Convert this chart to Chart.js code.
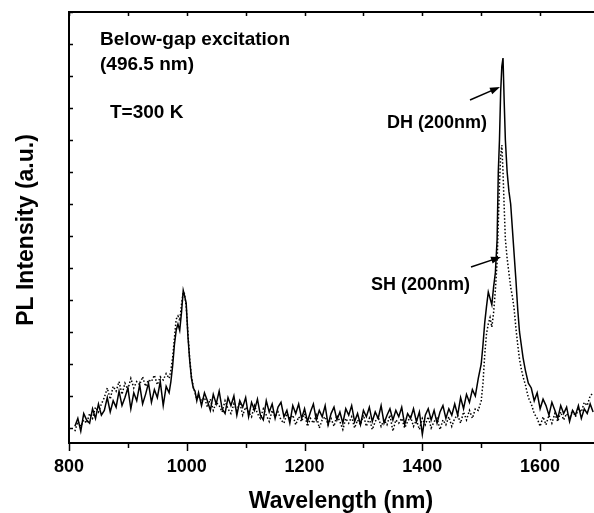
<!DOCTYPE html>
<html>
<head>
<meta charset="utf-8">
<title>PL spectra - below-gap excitation</title>
<script src="https://cdn.jsdelivr.net/npm/chart.js@4.4.1/dist/chart.umd.min.js"></script>
<style>
    html, body { margin: 0; padding: 0; background: #fff; overflow: hidden; }
    #wrap { width: 594px; height: 513px; overflow: hidden; }
</style>
</head>
<body>
<div id="wrap"><canvas id="plChart" width="600" height="513"></canvas></div>
<script>
// ========================================
// DATA
// ========================================
const wavelength = [
    810, 815, 820, 825, 830, 835, 840, 845, 850, 855, 860, 865, 870, 875, 880, 885, 890,
    895, 900, 905, 910, 915, 920, 925, 930, 935, 940, 945, 950, 955, 960, 965, 970,
    973, 976, 979, 982, 985, 988, 991, 994, 996, 999, 1002, 1005, 1008, 1011, 1014, 1017, 1020,
    1025, 1030, 1035, 1040, 1045, 1050, 1055, 1060, 1065, 1070, 1075, 1080, 1085, 1090, 1095,
    1100, 1105, 1110, 1115, 1120, 1125, 1130, 1135, 1140, 1145, 1150, 1155, 1160, 1165, 1170,
    1175, 1180, 1185, 1190, 1195, 1200, 1205, 1210, 1215, 1220, 1225, 1230, 1235, 1240, 1245,
    1250, 1255, 1260, 1265, 1270, 1275, 1280, 1285, 1290, 1295, 1300, 1305, 1310, 1315, 1320,
    1325, 1330, 1335, 1340, 1345, 1350, 1355, 1360, 1365, 1370, 1375, 1380, 1385, 1390, 1395,
    1400, 1405, 1410, 1415, 1420, 1425, 1430, 1435, 1440, 1445, 1450, 1455,
    1460, 1465, 1470, 1475, 1480, 1485, 1490, 1495, 1500, 1503, 1506, 1509, 1512, 1515, 1518,
    1521, 1524, 1527, 1529, 1531, 1533, 1535,
    1537, 1539, 1541, 1544, 1547, 1550, 1553, 1556, 1559, 1562, 1565, 1568, 1571, 1575, 1580,
    1585, 1590, 1595, 1600, 1605, 1610, 1615, 1620, 1625, 1630, 1635, 1640, 1645, 1650, 1655,
    1660, 1665, 1670, 1675, 1680, 1685, 1690
];

// DH (200nm) - solid line
const dhIntensity = [
    0.05, 0.30, -0.10, 0.45, 0.25, 0.15, 0.60, 0.30, 0.75, 0.40, 0.55, 0.95, 0.50, 0.85, 0.65, 1.15, 0.70,
    0.95, 1.25, 0.60, 1.10, 0.85, 1.35, 0.75, 1.05, 1.40, 0.80, 1.20, 0.95, 1.45, 0.70, 1.30, 1.10,
    1.45, 1.95, 2.60, 3.05, 3.25, 3.05, 3.60, 4.30, 4.15, 3.90, 2.85, 2.10, 1.55, 1.25, 1.15, 0.85, 1.10,
    0.70, 1.10, 0.85, 0.55, 1.05, 0.75, 1.15, 0.60, 0.45, 0.95, 0.70, 1.00, 0.40, 0.85, 0.65,
    0.95, 0.35, 0.80, 0.55, 0.90, 0.40, 0.25, 0.85, 0.50, 0.75, 0.30, 0.65, 0.80, 0.35, 0.55,
    0.15, 0.70, 0.45, 0.75, 0.30, 0.60, 0.20, 0.50, 0.75, 0.25, 0.55, 0.35, 0.70, 0.10, 0.45,
    0.65, 0.25, 0.50, 0.15, 0.60, 0.40, 0.70, 0.20, 0.45, 0.10, 0.55, 0.35, 0.65, 0.20, 0.50,
    0.30, 0.70, 0.15, 0.40, 0.60, 0.25, 0.55, 0.35, 0.65, 0.10, 0.45, 0.30, 0.60, 0.20, 0.50,
    -0.20, 0.40, 0.60, 0.25, 0.55, 0.15, 0.50, 0.70, 0.30, 0.60, 0.40, 0.75,
    0.40, 0.95, 0.60, 1.05, 0.80, 1.20, 1.00, 1.55, 2.00, 2.60, 3.30, 3.80, 4.25, 4.05, 3.85,
    4.40, 4.85, 5.90, 8.00, 9.00, 10.50, 11.30,
    11.56, 10.20, 9.00, 8.00, 7.40, 7.00, 6.20, 5.40, 4.60, 3.70, 3.00, 2.60, 2.20, 1.80, 1.40,
    1.25, 0.85, 1.10, 0.60, 0.90, 0.70, 0.40, 0.80, 0.55, 0.30, 0.70, 0.45, 0.65, 0.20, 0.55,
    0.40, 0.70, 0.30, 0.60, 0.45, 0.75, 0.50
];

// SH (200nm) - dotted line
const shIntensity = [
    -0.10, 0.20, 0.05, 0.25, 0.15, 0.45, 0.30, 0.65, 0.50, 0.75, 0.95, 1.25, 0.90, 1.30, 1.15, 1.45, 1.05,
    1.40, 1.20, 1.55, 1.25, 1.45, 1.35, 1.60, 1.30, 1.50, 1.45, 1.65, 1.35, 1.60, 1.50, 1.70, 1.55,
    1.80, 2.20, 2.80, 3.40, 3.50, 3.35, 3.85, 4.25, 4.20, 3.80, 2.95, 2.15, 1.60, 1.30, 1.10, 0.90, 1.00,
    0.85, 0.95, 0.65, 0.90, 0.55, 0.80, 0.70, 0.50, 0.85, 0.60, 0.45, 0.75, 0.55, 0.80, 0.40,
    0.65, 0.50, 0.35, 0.70, 0.45, 0.30, 0.60, 0.40, 0.20, 0.55, 0.35, 0.50, 0.25, 0.15, 0.45,
    0.30, 0.40, 0.10, 0.35, 0.20, 0.45, 0.05, 0.30, 0.15, 0.40, 0.00, 0.25, 0.35, 0.10, 0.30,
    0.05, 0.40, 0.20, -0.05, 0.30, 0.15, 0.35, 0.00, 0.25, 0.10, 0.40, 0.05, 0.30, -0.05, 0.20,
    0.35, 0.05, 0.25, 0.10, 0.40, -0.10, 0.25, 0.15, 0.30, 0.00, 0.20, 0.35, 0.05, 0.25, -0.05,
    0.30, 0.10, 0.35, 0.00, 0.20, 0.30, -0.05, 0.25, 0.10, 0.35, 0.05, 0.30,
    0.40, 0.15, 0.50, 0.25, 0.55, 0.30, 0.60, 0.55, 0.85, 1.40, 2.30, 2.95, 3.25, 3.45, 3.15,
    3.60, 4.30, 5.20, 6.40, 7.60, 8.50, 8.84,
    8.00, 6.90, 5.90, 5.30, 4.85, 4.40, 4.10, 3.70, 3.10, 2.60, 2.15, 1.85, 1.60, 1.35, 0.95,
    0.75, 0.45, 0.30, 0.05, 0.35, 0.10, 0.40, 0.15, 0.45, 0.20, 0.50, 0.25, 0.45, 0.30, 0.55,
    0.35, 0.60, 0.50, 0.80, 0.70, 1.00, 1.10
];

// axis ticks
const xLabelTicks = [800, 1000, 1200, 1400, 1600];
const xMarkTicks = [800, 900, 1000, 1100, 1200, 1300, 1400, 1500, 1600, 1700];
const yMarkTicks = [0, 1, 2, 3, 4, 5, 6, 7, 8, 9, 10, 11, 12, 13];

const FONT = 'Arial, "Liberation Sans", sans-serif';

// ========================================
// FRAME, TICKS, TITLES AND NOTES
// ========================================
const frameDecor = {
    id: 'frameDecor',
    afterDraw(chart) {
        const ctx = chart.ctx;
        const a = chart.chartArea;
        const xs = chart.scales.x;
        const ys = chart.scales.y;

        ctx.save();
        ctx.strokeStyle = '#000';
        ctx.lineWidth = 2;
        ctx.beginPath();
        ctx.moveTo(a.left, a.bottom);
        ctx.lineTo(a.left, a.top);
        ctx.lineTo(a.right + 5, a.top);
        ctx.moveTo(a.left - 1, a.bottom);
        ctx.lineTo(a.right + 5, a.bottom);
        ctx.stroke();

        // x ticks: outward at bottom, inward at top
        ctx.lineWidth = 1.5;
        ctx.beginPath();
        xMarkTicks.forEach(v => {
            const px = Math.round(xs.getPixelForValue(v)) + 0.5;
            const len = xLabelTicks.includes(v) ? 8 : 5;
            ctx.moveTo(px, a.bottom);
            ctx.lineTo(px, a.bottom + len);
            ctx.moveTo(px, a.top);
            ctx.lineTo(px, a.top + 4);
        });
        // y ticks: inward on the left
        yMarkTicks.forEach(v => {
            const py = Math.round(ys.getPixelForValue(v)) + 0.5;
            ctx.moveTo(a.left, py);
            ctx.lineTo(a.left + 4, py);
        });
        ctx.stroke();

        // axis titles
        ctx.fillStyle = '#000';
        ctx.font = 'bold 23px ' + FONT;
        ctx.textAlign = 'center';
        ctx.textBaseline = 'alphabetic';
        ctx.fillText('Wavelength (nm)', 341, 508);

        ctx.save();
        ctx.translate(33, 230);
        ctx.rotate(-Math.PI / 2);
        ctx.fillText('PL Intensity (a.u.)', 0, 0);
        ctx.restore();

        // notes
        ctx.textAlign = 'left';
        ctx.font = 'bold 19px ' + FONT;
        ctx.fillText('Below-gap excitation', 100, 45);
        ctx.fillText('(496.5 nm)', 100, 70);
        ctx.fillText('T=300 K', 110, 118);
        ctx.font = 'bold 18px ' + FONT;
        ctx.fillText('DH (200nm)', 387, 128);
        ctx.fillText('SH (200nm)', 371, 290);

        drawArrow(ctx, 470, 100, 500, 87);
        drawArrow(ctx, 471, 267, 501, 257);
        ctx.restore();
    }
};

function drawArrow(ctx, x1, y1, x2, y2) {
    const ang = Math.atan2(y2 - y1, x2 - x1);
    ctx.strokeStyle = '#000';
    ctx.lineWidth = 1.5;
    ctx.beginPath();
    ctx.moveTo(x1, y1);
    ctx.lineTo(x2 - 6 * Math.cos(ang), y2 - 6 * Math.sin(ang));
    ctx.stroke();
    ctx.beginPath();
    ctx.moveTo(x2, y2);
    ctx.lineTo(x2 - 10 * Math.cos(ang) + 3.5 * Math.sin(ang), y2 - 10 * Math.sin(ang) - 3.5 * Math.cos(ang));
    ctx.lineTo(x2 - 10 * Math.cos(ang) - 3.5 * Math.sin(ang), y2 - 10 * Math.sin(ang) + 3.5 * Math.cos(ang));
    ctx.closePath();
    ctx.fill();
}

// ========================================
// BUILD CHART
// ========================================
const ctx = document.getElementById('plChart').getContext('2d');

new Chart(ctx, {
    type: 'line',
    data: {
        labels: wavelength,
        datasets: [
            {
                label: 'SH (200nm)',
                data: wavelength.map((w, i) => ({ x: w, y: shIntensity[i] })),
                borderColor: '#000',
                borderWidth: 1.5,
                borderDash: [1.5, 2],
                pointRadius: 0,
                tension: 0,
                fill: false
            },
            {
                label: 'DH (200nm)',
                data: wavelength.map((w, i) => ({ x: w, y: dhIntensity[i] })),
                borderColor: '#000',
                borderWidth: 1.5,
                pointRadius: 0,
                tension: 0,
                fill: false
            }
        ]
    },
    options: {
        responsive: false,
        animation: false,
        layout: { padding: { left: 69, top: 12, right: 1, bottom: 0 } },
        plugins: {
            legend: { display: false },
            tooltip: { enabled: false }
        },
        scales: {
            x: {
                type: 'linear',
                min: 800,
                max: 1700,
                afterFit: function(scale) { scale.height = 70; },
                grid: { display: false, drawTicks: true, tickLength: 8 },
                border: { display: false },
                ticks: {
                    stepSize: 200,
                    includeBounds: false,
                    autoSkip: false,
                    maxRotation: 0,
                    padding: 5,
                    color: '#000',
                    font: { family: FONT, size: 18, weight: 'bold' },
                    callback: function(value) { return String(value); }
                }
            },
            y: {
                display: false,
                min: -0.47,
                max: 13
            }
        }
    },
    plugins: [frameDecor]
});
</script>
</body>
</html>
